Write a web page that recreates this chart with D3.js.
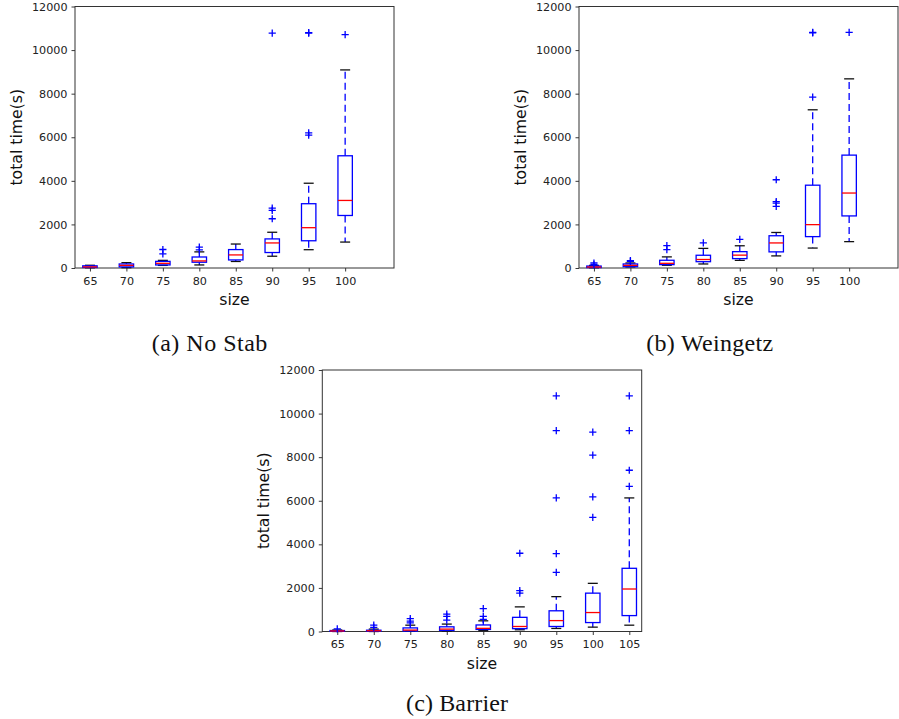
<!DOCTYPE html>
<html><head><meta charset="utf-8">
<script src="https://cdn.jsdelivr.net/npm/d3@7"></script>
<style>body{margin:0;background:#fff}svg{display:block}</style>
</head><body>
<svg id="chart" width="899" height="719"></svg>
<script>
// ---------- data ----------
const sizesAB = [65, 70, 75, 80, 85, 90, 95, 100];
const sizesC = [65, 70, 75, 80, 85, 90, 95, 100, 105];
const yTickValues = [0, 2000, 4000, 6000, 8000, 10000, 12000];

const noStabLow  = [10, 15, 120, 140, 300, 540, 840, 1190];
const noStabQ1   = [25, 50, 140, 265, 370, 710, 1250, 2410];
const noStabMed  = [50, 120, 215, 325, 600, 1150, 1850, 3100];
const noStabQ3   = [100, 185, 305, 505, 845, 1335, 2950, 5150];
const noStabHigh = [125, 245, 350, 740, 1100, 1640, 3890, 9090];
const noStabOut  = [[], [], [850, 650], [960, 830], [], [10780, 2750, 2640, 2260], [10780, 10800, 6200, 6100], [10710]];

const weingetzLow  = [10, 50, 125, 185, 350, 555, 915, 1210];
const weingetzQ1   = [20, 60, 155, 290, 430, 740, 1440, 2390];
const weingetzMed  = [45, 120, 215, 390, 590, 1150, 1990, 3440];
const weingetzQ3   = [90, 185, 355, 585, 750, 1480, 3800, 5180];
const weingetzHigh = [120, 230, 510, 900, 1020, 1630, 7260, 8680];
const weingetzOut  = [[230, 150], [340, 300], [1030, 840], [1150], [1310], [4050, 3050, 2980, 2830], [10810, 10790, 7840], [10810]];

const barrierLow  = [0, 0, 10, 20, 40, 80, 140, 200, 290];
const barrierQ1   = [10, 15, 20, 50, 95, 130, 230, 410, 730];
const barrierMed  = [25, 35, 65, 110, 145, 230, 500, 870, 1950];
const barrierQ3   = [45, 60, 165, 215, 300, 650, 950, 1760, 2900];
const barrierHigh = [70, 110, 290, 340, 490, 1130, 1600, 2210, 6130];
const barrierOut  = [[120], [290, 190], [590, 480, 400], [800, 690, 520], [1050, 690, 560], [3590, 1880, 1760], [10810, 9220, 6130, 3570, 2710], [9150, 8090, 6180, 5240], [10810, 9220, 7400, 6660]];

const captions = ["(a) No Stab", "(b) Weingetz", "(c) Barrier"];

// ---------- layout ----------
const svg = d3.select("#chart");
const panels = [
  {sizes: sizesAB, low: noStabLow, q1: noStabQ1, med: noStabMed, q3: noStabQ3, high: noStabHigh, out: noStabOut,
   left: 75, right: 394, top: 6.5, bottom: 268, cap: captions[0], capX: 209.5, capY: 351, capW: 115.6},
  {sizes: sizesAB, low: weingetzLow, q1: weingetzQ1, med: weingetzMed, q3: weingetzQ3, high: weingetzHigh, out: weingetzOut,
   left: 579, right: 898, top: 6.5, bottom: 268, cap: captions[1], capX: 709.7, capY: 351, capW: 127},
  {sizes: sizesC, low: barrierLow, q1: barrierQ1, med: barrierMed, q3: barrierQ3, high: barrierHigh, out: barrierOut,
   left: 322.3, right: 641.7, top: 370, bottom: 631.5, cap: captions[2], capX: 457, capY: 711, capW: 102}
];

const tickFont = "'DejaVu Sans', sans-serif";
const blue = "#0000ff", red = "#ff0000";

panels.forEach(p => {
  const x = d3.scaleLinear().domain([0.59, 9.34]).range([p.left, p.right]);
  const y = d3.scaleLinear().domain([0, 12000]).range([p.bottom, p.top]);
  const g = svg.append("g");

  // axes
  const xAxis = d3.axisBottom(x).tickValues(p.sizes.map((d, i) => i + 1))
    .tickFormat((d, i) => p.sizes[i]).tickSize(3.5).tickSizeOuter(0).tickPadding(5.5);
  const yAxis = d3.axisLeft(y).tickValues(yTickValues).tickFormat(d3.format("d"))
    .tickSize(3.5).tickSizeOuter(0).tickPadding(4);
  const gx = g.append("g").attr("transform", `translate(0,${p.bottom})`).call(xAxis);
  const gy = g.append("g").attr("transform", `translate(${p.left},0)`).call(yAxis);
  [gx, gy].forEach(a => {
    a.select(".domain").remove();
    a.selectAll("text").attr("font-family", tickFont).attr("font-size", 11.2).attr("fill", "#222");
    a.selectAll("line").attr("stroke", "#222").attr("stroke-width", 0.9);
  });

  // frame
  g.append("rect").attr("x", p.left).attr("y", p.top)
    .attr("width", p.right - p.left).attr("height", p.bottom - p.top)
    .attr("fill", "none").attr("stroke", "#333").attr("stroke-width", 1);

  const bw = 14.4, cw = 10;
  p.sizes.forEach((s, i) => {
    const cx = x(i + 1);
    const bx = g.append("g");
    // whiskers
    bx.append("line").attr("x1", cx).attr("x2", cx).attr("y1", y(p.q3[i])).attr("y2", y(p.high[i]))
      .attr("stroke", blue).attr("stroke-width", 1.3).attr("stroke-dasharray", "7,4");
    bx.append("line").attr("x1", cx).attr("x2", cx).attr("y1", y(p.q1[i])).attr("y2", y(p.low[i]))
      .attr("stroke", blue).attr("stroke-width", 1.3).attr("stroke-dasharray", "7,4");
    // caps
    [p.low[i], p.high[i]].forEach(v => {
      bx.append("line").attr("x1", cx - cw / 2).attr("x2", cx + cw / 2).attr("y1", y(v)).attr("y2", y(v))
        .attr("stroke", "#111").attr("stroke-width", 1.3);
    });
    // box
    bx.append("rect").attr("x", cx - bw / 2).attr("y", y(p.q3[i]))
      .attr("width", bw).attr("height", Math.max(0.5, y(p.q1[i]) - y(p.q3[i])))
      .attr("fill", "none").attr("stroke", blue).attr("stroke-width", 1.3);
    // median
    bx.append("line").attr("x1", cx - bw / 2).attr("x2", cx + bw / 2).attr("y1", y(p.med[i])).attr("y2", y(p.med[i]))
      .attr("stroke", red).attr("stroke-width", 1.3);
    // fliers
    p.out[i].forEach(v => {
      const py = y(v);
      bx.append("path").attr("d", `M${cx - 3.6},${py}H${cx + 3.6}M${cx},${py - 3.6}V${py + 3.6}`)
        .attr("stroke", blue).attr("stroke-width", 1.3).attr("fill", "none");
    });
  });

  // axis labels
  g.append("text").attr("x", (p.left + p.right) / 2).attr("y", p.bottom + 37)
    .attr("text-anchor", "middle").attr("font-family", tickFont).attr("font-size", 15.7).attr("fill", "#111")
    .text("size");
  g.append("text").attr("transform", `translate(${p.left - 53},${(p.top + p.bottom) / 2}) rotate(-90)`)
    .attr("text-anchor", "middle").attr("font-family", tickFont).attr("font-size", 15.7).attr("fill", "#111")
    .text("total time(s)");

  // caption
  svg.append("text").attr("x", p.capX).attr("y", p.capY).attr("text-anchor", "middle")
    .attr("font-family", "'Liberation Serif', 'Times New Roman', serif").attr("font-size", 24).attr("fill", "#111")
    .attr("textLength", p.capW).attr("lengthAdjust", "spacing")
    .text(p.cap);
});
</script>
</body></html>
